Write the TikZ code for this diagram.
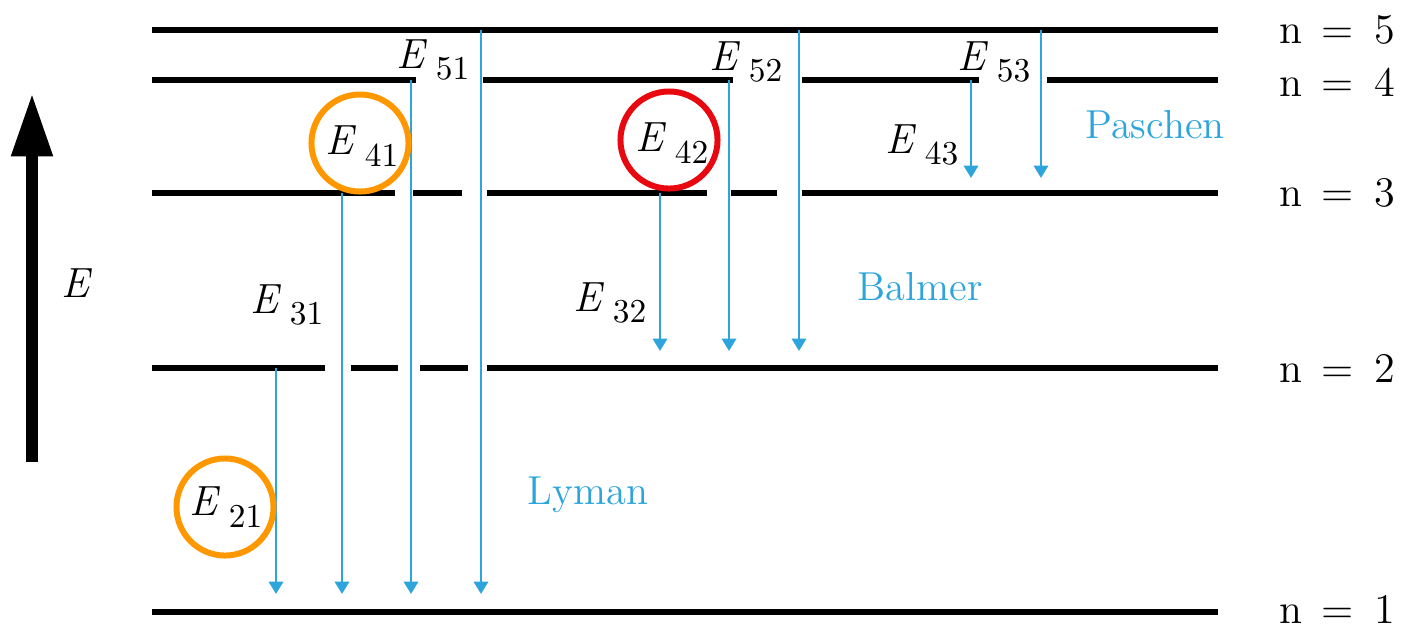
\documentclass[tikz,border=0pt]{standalone}
\usetikzlibrary{arrows.meta}
\definecolor{lineblue}{RGB}{45,165,220}
\definecolor{ringorange}{RGB}{255,152,0}
\definecolor{ringred}{RGB}{232,8,16}
\newcommand\Elab[1]{\textit{E}\hspace{0.2em}\raisebox{-0.28em}{\fontsize{9.5}{10}\selectfont #1}}
\tikzset{
  level/.style={line width=1.5pt,black},
  trans/.style={line width=0.8pt,lineblue,-{Triangle[width=4pt,length=3.5pt]}},
  elabel/.style={font=\fontsize{12}{14}\selectfont,inner sep=0pt},
  nlabel/.style={font=\fontsize{12}{14}\selectfont,anchor=west,inner sep=0pt},
  series/.style={font=\fontsize{11.5}{14}\selectfont,text=lineblue,inner sep=0pt},
  ring/.style={circle,draw,line width=1.7pt,minimum size=0.97cm,inner sep=0pt},
}
\begin{document}
\begin{tikzpicture}[x=0.01cm,y=-0.01cm]
\useasboundingbox (0,0) rectangle (1402,629);
% level coordinates
\coordinate (l5a) at (152,30);  \coordinate (l5b) at (1218,30);
\coordinate (l1a) at (152,612); \coordinate (l1b) at (1218,612);
% n=5 and n=1
\draw[level] (l5a) -- (l5b);
\draw[level] (l1a) -- (l1b);
% n=4 segments
\coordinate (l4a) at (152,80);  \coordinate (l4b) at (416,80);
\coordinate (l4c) at (483,80);  \coordinate (l4d) at (733,80);
\coordinate (l4e) at (802,80);  \coordinate (l4f) at (979,80);
\coordinate (l4g) at (1047,80); \coordinate (l4h) at (1218,80);
\draw[level] (l4a) -- (l4b) (l4c) -- (l4d) (l4e) -- (l4f) (l4g) -- (l4h);
% n=3 segments
\coordinate (l3a) at (152,193); \coordinate (l3b) at (395,193);
\coordinate (l3c) at (413,193); \coordinate (l3d) at (462,193);
\coordinate (l3e) at (487,193); \coordinate (l3f) at (707,193);
\coordinate (l3g) at (731,193); \coordinate (l3h) at (777,193);
\coordinate (l3i) at (802,193); \coordinate (l3j) at (1218,193);
\draw[level] (l3a) -- (l3b) (l3c) -- (l3d) (l3e) -- (l3f) (l3g) -- (l3h) (l3i) -- (l3j);
% n=2 segments
\coordinate (l2a) at (152,368); \coordinate (l2b) at (325,368);
\coordinate (l2c) at (351,368); \coordinate (l2d) at (398,368);
\coordinate (l2e) at (420,368); \coordinate (l2f) at (468,368);
\coordinate (l2g) at (487,368); \coordinate (l2h) at (1218,368);
\draw[level] (l2a) -- (l2b) (l2c) -- (l2d) (l2e) -- (l2f) (l2g) -- (l2h);
% transitions
\coordinate (s21) at (276,368); \coordinate (e21) at (276,594);
\coordinate (s31) at (342,193); \coordinate (e31) at (342,594);
\coordinate (s41) at (411,80);  \coordinate (e41) at (411,594);
\coordinate (s51) at (481,30);  \coordinate (e51) at (481,594);
\coordinate (s32) at (660,193); \coordinate (e32) at (660,351);
\coordinate (s42) at (729,80);  \coordinate (e42) at (729,351);
\coordinate (s52) at (799,30);  \coordinate (e52) at (799,351);
\coordinate (s43) at (971,80);  \coordinate (e43) at (971,178);
\coordinate (s53) at (1041,30); \coordinate (e53) at (1041,178);
\foreach \t in {21,31,41,51,32,42,52,43,53}{\draw[trans] (s\t) -- (e\t);}
% energy axis
\coordinate (ea) at (32,462); \coordinate (eb) at (32,93);
\draw[line width=3.4pt,-{Triangle[width=11pt,length=18pt]}] (ea) -- (eb);
\node[elabel] (Eaxis) at (77,283) {\textit{E}};
% transition labels
\node[elabel] (t51) at (433,60) {\Elab{51}};
\node[elabel] (t52) at (746,62) {\Elab{52}};
\node[elabel] (t53) at (994,62) {\Elab{53}};
\node[elabel] (t41) at (362,146) {\Elab{41}};
\node[elabel] (t42) at (672,143) {\Elab{42}};
\node[elabel] (t43) at (922,145) {\Elab{43}};
\node[elabel] (t31) at (287,305) {\Elab{31}};
\node[elabel] (t32) at (610,303) {\Elab{32}};
\node[elabel] (t21) at (226,507) {\Elab{21}};
% rings
\node[ring,draw=ringorange] (c41) at (360,143) {};
\node[ring,draw=ringred] (c42) at (669,140) {};
\node[ring,draw=ringorange] (c21) at (225,507) {};
% series names
\node[series] (pas) at (1155,125) {Paschen};
\node[series] (bal) at (920,287) {Balmer};
\node[series] (lym) at (588,495) {Lyman};
% n labels
\node[nlabel] (n5) at (1279,30)  {n\hspace{0.45em}=\hspace{0.5em}5};
\node[nlabel] (n4) at (1279,82)  {n\hspace{0.45em}=\hspace{0.5em}4};
\node[nlabel] (n3) at (1279,193) {n\hspace{0.45em}=\hspace{0.5em}3};
\node[nlabel] (n2) at (1279,368) {n\hspace{0.45em}=\hspace{0.5em}2};
\node[nlabel] (n1) at (1279,609) {n\hspace{0.45em}=\hspace{0.5em}1};
\end{tikzpicture}
\end{document}
